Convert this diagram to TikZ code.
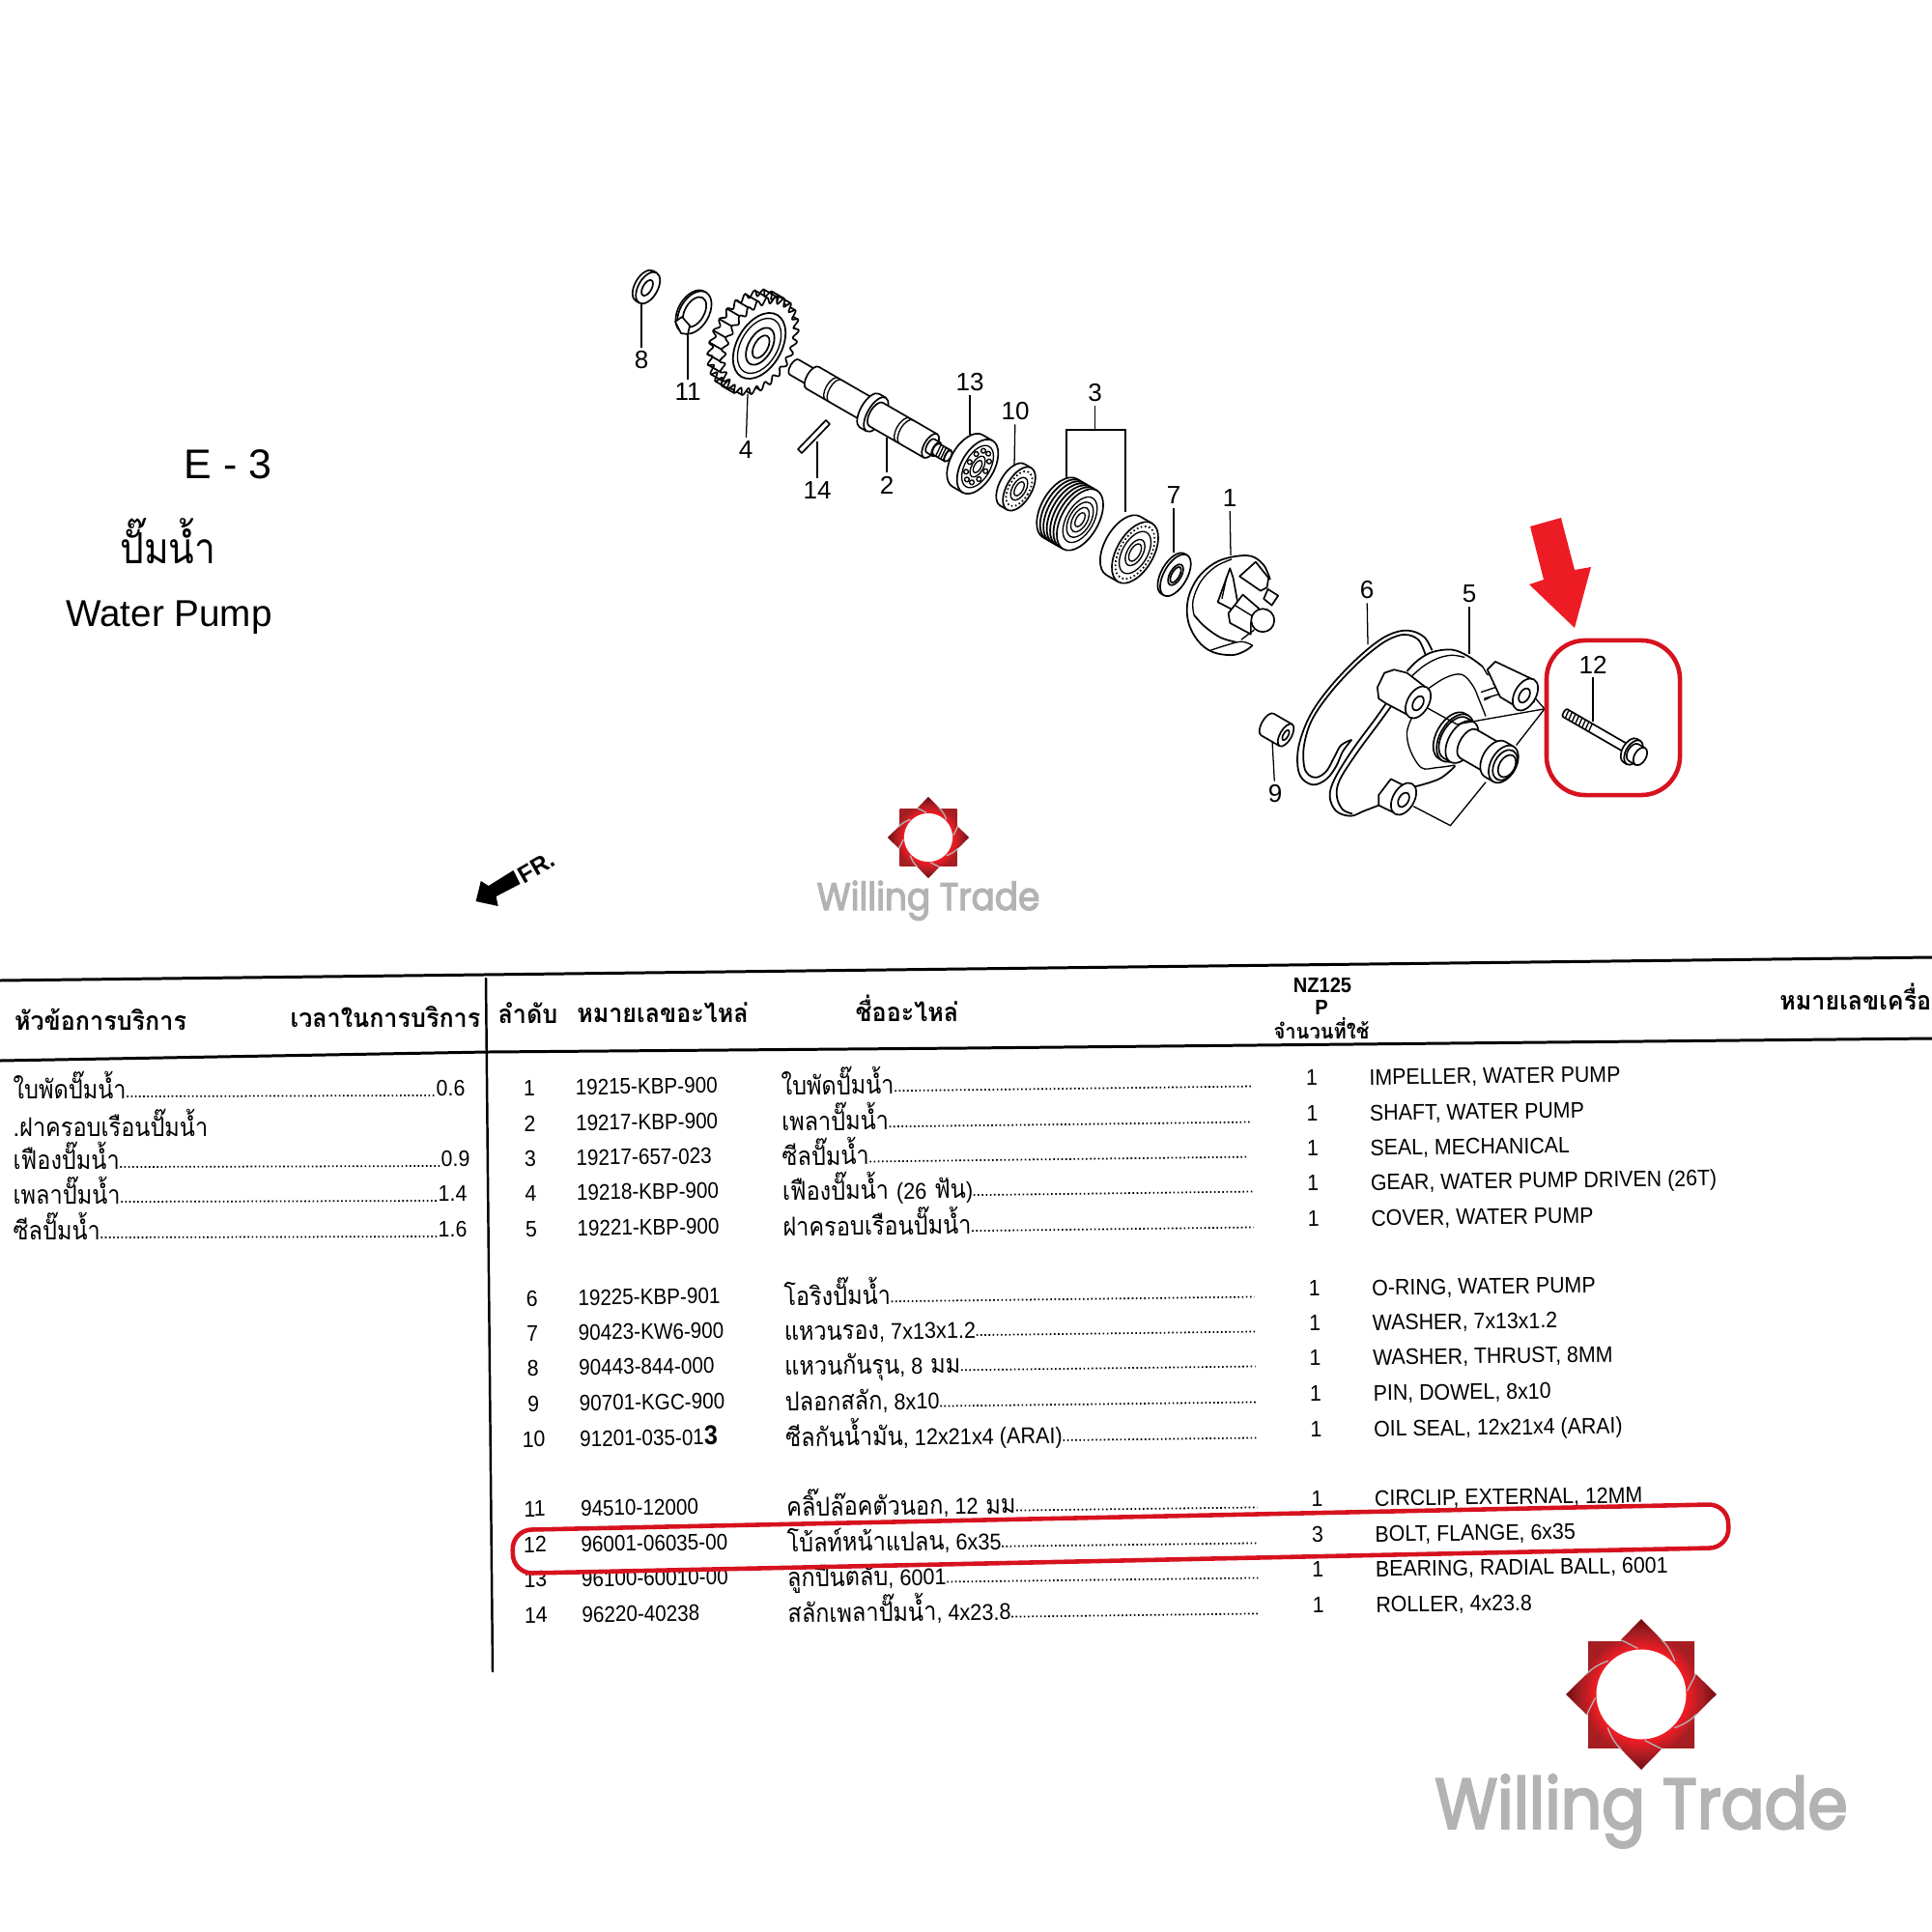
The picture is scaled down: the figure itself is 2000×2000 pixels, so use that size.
\documentclass[tikz,border=0pt]{standalone}
\usepackage{fontspec}
\setmainfont{Liberation Sans}
\newfontfamily\partfont[FakeStretch=.92]{Liberation Sans}
\newfontfamily\codefont[FakeStretch=.89]{Liberation Sans}
\newfontfamily\thaifont[Script=Thai,FakeStretch=.88]{Loma}
\newfontfamily\thaiheadfont[Script=Thai,FakeStretch=.94]{Loma}
\newfontfamily\logofont[FakeStretch=.9,FakeBold=3]{Poppins}
\definecolor{markred}{HTML}{ED1C24}
\definecolor{ringred}{HTML}{D7121F}
\definecolor{logored}{HTML}{ED1C24}
\definecolor{logosq}{HTML}{A41E22}
\definecolor{logotipc}{HTML}{6E0A10}
\definecolor{logogrey}{HTML}{B3B3B3}
\pgfdeclareradialshading{logotip}{\pgfpoint{0bp}{0bp}}{color(0bp)=(logored);color(15bp)=(logored);color(20bp)=(logosq);color(24.5bp)=(logotipc);color(50bp)=(logotipc)}
\pgfdeclareradialshading{logosquare}{\pgfpoint{0bp}{0bp}}{color(0bp)=(logored);color(15bp)=(logored);color(19.5bp)=(logosq);color(50bp)=(logosq)}
\newcommand{\lat}[1]{{\partfont\fontsize{6.7}{8}\selectfont #1}}
\tikzset{
  partline/.style={draw=black,fill=white,line width=.48pt,line join=round},
  thinline/.style={draw=black,line width=.38pt},
  heavyline/.style={draw=black,line width=.5pt},
  leaderline/.style={draw=black,line width=.36pt},
  partlabel/.style={font=\fontsize{7.4}{8}\selectfont,inner sep=1pt},
  tabletext/.style={font=\partfont\fontsize{6.6}{8}\selectfont,inner sep=0pt,anchor=base west},
  codetext/.style={font=\codefont\fontsize{6.6}{8}\selectfont,inner sep=0pt,anchor=base west},
  tablenum/.style={font=\partfont\fontsize{6.6}{8}\selectfont,inner sep=0pt,anchor=base},
  thaitext/.style={font=\thaifont\fontsize{7.6}{9}\selectfont,inner sep=0pt,anchor=base west},
  thaihead/.style={font=\thaiheadfont\bfseries\fontsize{7.6}{9}\selectfont,inner sep=0pt,anchor=base},
  dotrow/.style={draw=black,line width=.5pt,dash pattern=on .45pt off .75pt},
  ruleline/.style={draw=black,line width=.85pt},
  zoomcover/.style={shift={(1340,630)},x=.003333cm,y=-.003333cm},
  zoomfan/.style={shift={(1220,565)},x=.003333cm,y=-.003333cm},
  willing/.pic={
    \begin{scope}
      \clip (-55,-55) rectangle (55,55);
      \shade[shading=logosquare] (0,0) circle [radius=80];
    \end{scope}
    \foreach \a in {0,90,180,270} {
      \begin{scope}[rotate=\a]
        \begin{scope}
          \clip (0,-78) -- (20.7,-57) .. controls (28,-50) and (32,-42) .. (34.7,-34.3) -- (0,0) -- (-3.7,-47.7) .. controls (-9,-50) and (-15,-54) .. (-21.3,-56.3) -- cycle;
          \shade[shading=logotip] (0,0) circle [radius=80];
        \end{scope}
        \draw[logogrey,line width=.38pt] (20.7,-57) .. controls (28,-50) and (32,-42) .. (34.7,-34.3);
        \draw[logogrey,line width=.38pt] (-3.7,-47.7) .. controls (-9,-50) and (-15,-54) .. (-21.3,-56.3);
      \end{scope}
    }
    \fill[white] (0,0) circle [radius=46.5];
    \node[font=\logofont\fontsize{21}{24}\selectfont,text=logogrey,inner sep=0pt,anchor=base] (word) at (0,139) {Willing Trade};
  }
}
% part seen along the shaft: back arc, sides, front face
\newcommand{\cylpart}[6]{
  \begin{scope}[shift={(#1,#2)},rotate=-30]
    \draw[partline] (#3,-#5) arc [start angle=-90,end angle=-270,x radius=#6,y radius=#5] -- (#4,#5) -- (#4,-#5) -- cycle;
    \draw[partline] (#4,0) ellipse [x radius=#6,y radius=#5];
  \end{scope}
}
\newcommand{\facering}[4]{
  \draw[partline,shift={(#1,#2)},rotate=-30] (0,0) ellipse [x radius=#4,y radius=#3];
}
\begin{document}
\begin{tikzpicture}[x=.01cm,y=-.01cm]
\useasboundingbox (0,0) rectangle (2000,2000);
\fill[white] (0,0) rectangle (2000,2000);

% title block
\node[font=\fontsize{12.2}{14}\selectfont,inner sep=0pt] (title-code) at (236,481) {E - 3};
\node[font=\thaifont\fontsize{12.6}{15}\selectfont,inner sep=0pt] (title-thai) at (174,560) {ปั๊มน้ำ};
\node[font=\fontsize{11}{13}\selectfont,inner sep=0pt] (title-eng) at (175,639) {Water Pump};

% front arrow
\fill[black] (531.4,901) -- (538.5,915) -- (513.6,928) -- (515.6,938) -- (492.6,933) -- (497.8,912) -- (505.7,917) -- cycle;
\node[font=\bfseries\fontsize{7}{8}\selectfont,rotate=30,inner sep=0pt] (front) at (555,898) {FR.};

% gear
\begin{scope}[shift={(786,358)},rotate=-30]
  \draw[partline] plot[domain=0:360,samples=209,variable=\t] ({-15+32.5*(1+.075*sin(26*\t))*cos(\t)},{51.5*(1+.075*sin(26*\t))*sin(\t)}) -- cycle;
  \foreach \k in {0,...,25} {
    \pgfmathsetmacro{\t}{(90+360*\k)/26}
    \draw[heavyline] ({-15+35*cos(\t)},{55.4*sin(\t)}) -- ({35*cos(\t)},{55.4*sin(\t)});
  }
  \draw[partline] plot[domain=0:360,samples=209,variable=\t] ({32.5*(1+.075*sin(26*\t))*cos(\t)},{51.5*(1+.075*sin(26*\t))*sin(\t)}) -- cycle;
  \draw[heavyline] (0,0) ellipse [x radius=23,y radius=37];
  \draw[thinline] (0,0) ellipse [x radius=19,y radius=31];
  \draw[heavyline] (1,0) ellipse [x radius=12,y radius=21];
  \draw[partline] (2,0) ellipse [x radius=7,y radius=13];
\end{scope}

% washer and circlip
\cylpart{669}{297}{-2}{2}{18}{10}
\facering{670}{298}{9}{4.5}
\cylpart{718}{323}{-1}{1}{24}{15}
\facering{719}{323}{17}{10}
\draw[partline] (699,333) -- (705,345) -- (712,346) -- (714,337) -- (706,328) -- cycle;

% shaft
\cylpart{822}{380}{0}{22}{9}{4}
\cylpart{822}{380}{22}{90}{13}{6}
\cylpart{822}{380}{90}{98}{20}{9}
\cylpart{822}{380}{98}{163}{14}{6.5}
\cylpart{822}{380}{163}{170}{8}{3.5}
\cylpart{822}{380}{170}{184}{6.5}{3}
\begin{scope}[shift={(822,380)},rotate=-30]
  \foreach \s in {45,49} \draw[thinline] (\s,-13) arc [start angle=-90,end angle=-270,x radius=6,y radius=13];
  \foreach \s in {130,134} \draw[thinline] (\s,-14) arc [start angle=-90,end angle=-270,x radius=6.5,y radius=14];
  \foreach \s in {172,175,178,181} \draw[thinline] (\s,-6.5) -- (\s+1,6.5);
\end{scope}

% roller
\draw[partline] (826,465) -- (855,435) -- (859,439) -- (830,469) -- cycle;

% bearing
\cylpart{1012}{483}{-12}{0}{31}{17}
\begin{scope}[shift={(1012,483)},rotate=-30]
  \draw[thinline] (0,0) ellipse [x radius=13,y radius=24];
  \draw[thinline] (0,0) ellipse [x radius=6,y radius=12];
  \draw[thinline] (0,0) ellipse [x radius=3.5,y radius=7];
  \foreach \a in {0,36,...,324} \draw[thinline] ({9.5*cos(\a)},{18*sin(\a)}) circle [radius=2.4];
\end{scope}

% oil seal
\cylpart{1055}{506}{-8}{0}{25}{13}
\begin{scope}[shift={(1055,506)},rotate=-30]
  \draw[dotrow] (0,0) ellipse [x radius=10.5,y radius=20];
  \draw[thinline] (0,0) ellipse [x radius=7,y radius=13];
  \draw[thinline] (0,0) ellipse [x radius=4,y radius=8];
\end{scope}

% mechanical seal, two halves
\cylpart{1118}{538}{-24}{0}{35}{19}
\begin{scope}[shift={(1118,538)},rotate=-30]
  \foreach \s in {-20,-16,-12,-8,-4} \draw[heavyline] (\s,-35) arc [start angle=-90,end angle=-270,x radius=19,y radius=35];
  \draw[thinline] (0,0) ellipse [x radius=14,y radius=26];
  \draw[thinline] (0,0) ellipse [x radius=11,y radius=20];
  \draw[thinline] (0,0) ellipse [x radius=7.5,y radius=14];
  \draw[thinline] (0,0) ellipse [x radius=4,y radius=8];
\end{scope}
\cylpart{1175}{572}{-14}{0}{35}{19}
\begin{scope}[shift={(1175,572)},rotate=-30]
  \draw[dotrow] (0,0) ellipse [x radius=16,y radius=30];
  \draw[thinline] (0,0) ellipse [x radius=13,y radius=24];
  \draw[thinline] (0,0) ellipse [x radius=8,y radius=15];
  \draw[thinline] (0,0) ellipse [x radius=5,y radius=10];
\end{scope}

% washer 7
\cylpart{1216}{595}{-2}{1}{24}{12}
\facering{1217}{595}{12}{6}
\facering{1217}{595}{9}{4}

% impeller
\begin{scope}[zoomfan]
  \draw[heavyline] plot[smooth,tension=.6] coordinates {(285,105) (265,60) (225,32) (165,35) (110,55) (60,100) (30,165) (30,235) (60,295) (105,330) (165,340) (205,328) (230,310)};
  \draw[thinline] plot[smooth,tension=.6] coordinates {(165,42) (115,65) (70,110) (45,170) (48,215)};
  \draw[heavyline] plot[smooth,tension=.6] coordinates {(48,215) (80,250) (130,285) (180,300)};
  \draw[thinline] plot[smooth,tension=.6] coordinates {(100,325) (140,312) (195,298) (230,310)};
  \draw[partline] (160,70) -- (122,175) -- (190,210) -- (170,100) -- cycle;
  \draw[thinline] (150,95) -- (135,165);
  \draw[partline] (190,95) -- (240,50) -- (280,100) -- (275,130) -- (255,140) -- cycle;
  \draw[partline] (278,135) -- (310,155) -- (290,185) -- (265,165) -- cycle;
  \draw[partline] (155,210) -- (200,152) -- (250,195) -- (225,240) -- (225,275) -- (160,240) -- cycle;
  \draw[thinline] (175,185) -- (240,225);
  \draw[thinline] (195,292) -- (235,262);
  \draw[partline] (262,232) circle [radius=36];
\end{scope}

% o-ring
\begin{scope}[zoomcover]
  \draw[heavyline] plot[smooth,tension=.6] coordinates {(428,130) (405,90) (365,70) (320,72) (265,98) (190,160) (110,245) (50,330) (15,420) (10,490) (25,530) (60,548) (100,530) (130,490) (150,445) (178,408)};
  \draw[heavyline] plot[smooth,tension=.6] coordinates {(408,145) (388,100) (355,82) (320,85) (270,110) (195,172) (115,258) (55,345) (30,425) (30,490) (45,518) (70,525) (100,505) (125,460) (145,425) (178,408)};

% cover
  \fill[white] plot[smooth cycle,tension=.3] coordinates {(258,245) (280,200) (310,190) (350,195) (385,160) (430,135) (490,128) (540,148) (585,180) (625,165) (745,225) (755,270) (720,310) (650,290) (600,400) (650,430) (700,460) (650,540) (590,530) (500,490) (430,540) (370,555) (360,620) (300,630) (262,612) (215,630) (175,645) (130,630) (110,585) (125,530) (180,440) (250,345) (285,295) (258,270)};
  \draw[heavyline] plot[smooth,tension=.6] coordinates {(285,295) (250,345) (180,440) (125,530) (110,585) (130,630) (175,645) (215,630) (262,612)};
  \draw[heavyline] plot[smooth,tension=.6] coordinates {(300,305) (260,360) (190,455) (140,535) (132,585) (150,625) (180,638)};
  \draw[heavyline] plot[smooth,tension=.6] coordinates {(350,195) (385,160) (430,135) (490,128) (540,148) (585,180)};
  \draw[thinline] plot[smooth,tension=.6] coordinates {(360,215) (400,180) (445,155) (490,145) (530,152)};
  \draw[thinline] plot[smooth,tension=.6] coordinates {(415,250) (470,215) (520,205) (555,240) (575,285) (595,335)};
  \draw[thinline] plot[smooth,tension=.6] coordinates {(365,340) (350,385) (360,440) (395,495) (440,495) (500,487)};
  \draw[heavyline] plot[smooth,tension=.6] coordinates {(500,490) (450,530) (370,555)};
  \draw[thinline] (585,180) -- (600,205) -- (630,210) -- (620,235) -- (640,240) -- (640,265) -- (590,280);
  \draw[thinline] (580,260) -- (610,250) -- (640,240);
  \draw[thinline] (590,285) -- (610,275);
  % bosses
  \draw[partline] (258,245) -- (280,200) -- (310,190) -- (350,200) -- (415,250) -- (370,340) -- (285,295) -- (262,280) -- cycle;
  \draw[partline] (625,165) -- (745,222) -- (745,290) -- (690,305) -- (640,275) -- (600,190) -- cycle;
  \draw[partline] (262,580) -- (300,530) -- (360,560) -- (340,635) -- (320,640) -- (262,612) -- cycle;
\end{scope}
\facering{1468}{727}{18}{11}
\facering{1468}{728}{8}{5}
\facering{1579}{719}{18}{11}
\facering{1578}{720}{8}{5}
\facering{1453}{827}{18}{11}
\facering{1453}{828}{8}{5}

% spigot
\cylpart{1503}{762}{0}{4}{27}{16}
\cylpart{1503}{762}{4}{12}{24}{14}
\cylpart{1520}{770}{0}{32}{17}{9}
\cylpart{1520}{770}{32}{42}{21}{13}
\facering{1558}{792}{17}{11}
\facering{1560}{793}{12.5}{8}

\begin{scope}[zoomcover]
  % bolt centre lines
  \coordinate (guide-a) at (415,310);
  \coordinate (guide-b) at (505,360);
  \coordinate (guide-c) at (778,312);
  \coordinate (guide-d) at (690,425);
  \coordinate (guide-e) at (750,280);
  \coordinate (guide-f) at (370,615);
  \coordinate (guide-g) at (485,675);
  \coordinate (guide-h) at (595,540);
  \draw[thinline] (guide-a) -- (guide-b) -- (guide-c) -- (guide-d);
  \draw[thinline] (guide-e) -- (guide-c);
  \draw[thinline] (guide-f) -- (guide-g) -- (guide-h);
\end{scope}

% dowel pin
\cylpart{1312}{750}{0}{22}{13}{6}
\facering{1331}{761}{6}{2.5}

% flange bolt
\cylpart{1620}{738}{0}{78}{4.5}{1.5}
\begin{scope}[shift={(1620,738)},rotate=-30]
  \foreach \s in {2,6,...,30} \draw[thinline] (\s,-5) -- (\s+1,5);
\end{scope}
\cylpart{1620}{738}{78}{82}{14}{8}
\cylpart{1620}{738}{82}{90}{10}{6}

% callouts
\foreach \i/\x/\y/\lx/\ly in {8/664/358/664/373,11/712/347/712/406,4/774/408/772/466,14/846/457/846/508,2/918/453/918/502,13/1004/450/1004/396,10/1050/482/1051/426,7/1215/572/1215/513,1/1274/575/1273/516,6/1416/667/1415/611,5/1521/677/1521/615,9/1317/767/1320/822,12/1649/747/1649/688} {
  \node[partlabel] (lab-\i) at (\lx,\ly) {\i};
  \coordinate (part-\i) at (\x,\y);
  \draw[leaderline] (lab-\i) -- (part-\i);
}
\node[partlabel] (lab-3) at (1133.5,407) {3};
\coordinate (brace-3) at (1133.5,445);
\coordinate (brace-3a) at (1104,445);
\coordinate (brace-3b) at (1165,445);
\coordinate (part-3a) at (1104,495);
\coordinate (part-3b) at (1165,530);
\draw[leaderline] (lab-3) -- (brace-3);
\draw[leaderline] (part-3a) -- (brace-3a) -- (brace-3b) -- (part-3b);
\coordinate (part-8b) at (664,315);
\draw[leaderline] (part-8) -- (part-8b);

% table rules
\coordinate (top-l) at (0,1015);
\coordinate (top-m) at (1000,1003);
\coordinate (top-r) at (2000,991);
\coordinate (sub-l) at (0,1098);
\coordinate (sub-m) at (505,1089);
\coordinate (sub-n) at (1000,1085);
\coordinate (sub-r) at (2000,1075);
\coordinate (col-t) at (503,1012);
\coordinate (col-b) at (510,1731);
\draw[ruleline] (top-l) -- (top-m) -- (top-r);
\draw[ruleline] (sub-l) -- (sub-m) -- (sub-n) -- (sub-r);
\draw[ruleline,line width=.7pt] (col-t) -- (col-b);

% table heads
\node[thaihead] (head-a) at (104,1066) {หัวข้อการบริการ};
\node[thaihead] (head-b) at (399,1063) {เวลาในการบริการ};
\node[thaihead] (head-c) at (546.5,1059) {ลำดับ};
\node[thaihead] (head-d) at (686,1058) {หมายเลขอะไหล่};
\node[thaihead] (head-e) at (939,1057) {ชื่ออะไหล่};
\node[font=\partfont\bfseries\fontsize{6.2}{8}\selectfont,inner sep=0pt] (head-f) at (1369,1020) {NZ125};
\node[font=\partfont\bfseries\fontsize{6.2}{8}\selectfont,inner sep=0pt] (head-g) at (1368,1043) {P};
\node[thaihead,font=\thaiheadfont\bfseries\fontsize{6.1}{8}\selectfont] (head-h) at (1368,1075) {จำนวนที่ใช้};
\node[thaihead,anchor=base east] (head-i) at (2000,1045) {หมายเลขเครื่อ};

% left list
\node[thaitext] (job-2) at (13,1176) {.ฝาครอบเรือนปั๊มน้ำ};
\foreach \i/\y/\name/\val/\vx in {1/1134/ใบพัดปั๊มน้ำ/0.6/451,3/1207/เฟืองปั๊มน้ำ/0.9/456,4/1243/เพลาปั๊มน้ำ/1.4/453,5/1280/ซีลปั๊มน้ำ/1.6/453} {
  \node[thaitext,yshift=-.03cm] (job-\i) at (13,\y) {\name};
  \node[tabletext] (time-\i) at (\vx,\y) {\val};
  \draw[dotrow] ([yshift=.02cm]job-\i.base east) -- (time-\i.base west);
}

% parts rows
\begin{scope}[rotate around={.72:(548,1126)},transform shape]
\foreach \i/\y/\pn/\th/\xe/\q/\en in {
  1/1134/19215-KBP-900/ใบพัดปั๊มน้ำ/1296/1/{IMPELLER, WATER PUMP},
  2/1171/19217-KBP-900/เพลาปั๊มน้ำ/1296/1/{SHAFT, WATER PUMP},
  3/1207/19217-657-023/ซีลปั๊มน้ำ/1290/1/{SEAL, MECHANICAL},
  4/1243/19218-KBP-900/{เฟืองปั๊มน้ำ \lat{(26} ฟัน\lat{)}}/1296/1/{GEAR, WATER PUMP DRIVEN (26T)},
  5/1280/19221-KBP-900/ฝาครอบเรือนปั๊มน้ำ/1296/1/{COVER, WATER PUMP},
  6/1352/19225-KBP-901/โอริงปั๊มน้ำ/1296/1/{O-RING, WATER PUMP},
  7/1388/90423-KW6-900/{แหวนรอง\lat{, 7x13x1.2}}/1296/1/{WASHER, 7x13x1.2},
  8/1424/90443-844-000/{แหวนกันรุน\lat{, 8} มม}/1296/1/{WASHER, THRUST, 8MM},
  9/1461/90701-KGC-900/{ปลอกสลัก\lat{, 8x10}}/1296/1/{PIN, DOWEL, 8x10},
  10/1498/91201-035-01\textbf{\fontsize{8}{8}\selectfont 3}/{ซีลกันน้ำมัน\lat{, 12x21x4 (ARAI)}}/1296/1/{OIL SEAL, 12x21x4 (ARAI)},
  11/1570/94510-12000/{คลิ๊ปล๊อคตัวนอก\lat{, 12} มม}/1296/1/{CIRCLIP, EXTERNAL, 12MM},
  12/1607/96001-06035-00/{โบ้ลท์หน้าแปลน\lat{, 6x35}}/1296/3/{BOLT, FLANGE, 6x35},
  13/1643/96100-60010-00/{ลูกปืนตลับ\lat{, 6001}}/1296/1/{BEARING, RADIAL BALL, 6001},
  14/1680/96220-40238/{สลักเพลาปั๊มน้ำ\lat{, 4x23.8}}/1296/1/{ROLLER, 4x23.8}} {
  \node[tablenum] (no-\i) at (548,\y) {\i};
  \node[codetext] (code-\i) at (595,\y) {\pn};
  \node[thaitext,yshift=-.03cm] (name-\i) at (808,\y) {\th};
  \coordinate (end-\i) at (\xe,\y);
  \draw[dotrow] ([yshift=.03cm]name-\i.base east) -- (end-\i);
  \node[tablenum] (qty-\i) at (1358,\y) {\q};
  \node[tabletext] (eng-\i) at (1417,\y) {\en};
}
\end{scope}

% red marks
\fill[markred] (1584,545) -- (1616,536) -- (1630,590) -- (1647,587) -- (1630,650) -- (1583,605) -- (1598,600) -- cycle;
\node[draw=ringred,line width=1.3pt,rounded corners=.4cm,minimum width=1.38cm,minimum height=1.6cm,inner sep=0pt] (boltmark) at (1670,743) {};
\node[draw=ringred,line width=1.3pt,rounded corners=.2cm,minimum width=12.58cm,minimum height=.45cm,inner sep=0pt,rotate=1.22] (rowmark) at (1160,1593) {};

% logos
\pic (small) at (961,867) [scale=.54,transform shape] {willing};
\pic (big) at (1699,1754) {willing};
\end{tikzpicture}
\end{document}
